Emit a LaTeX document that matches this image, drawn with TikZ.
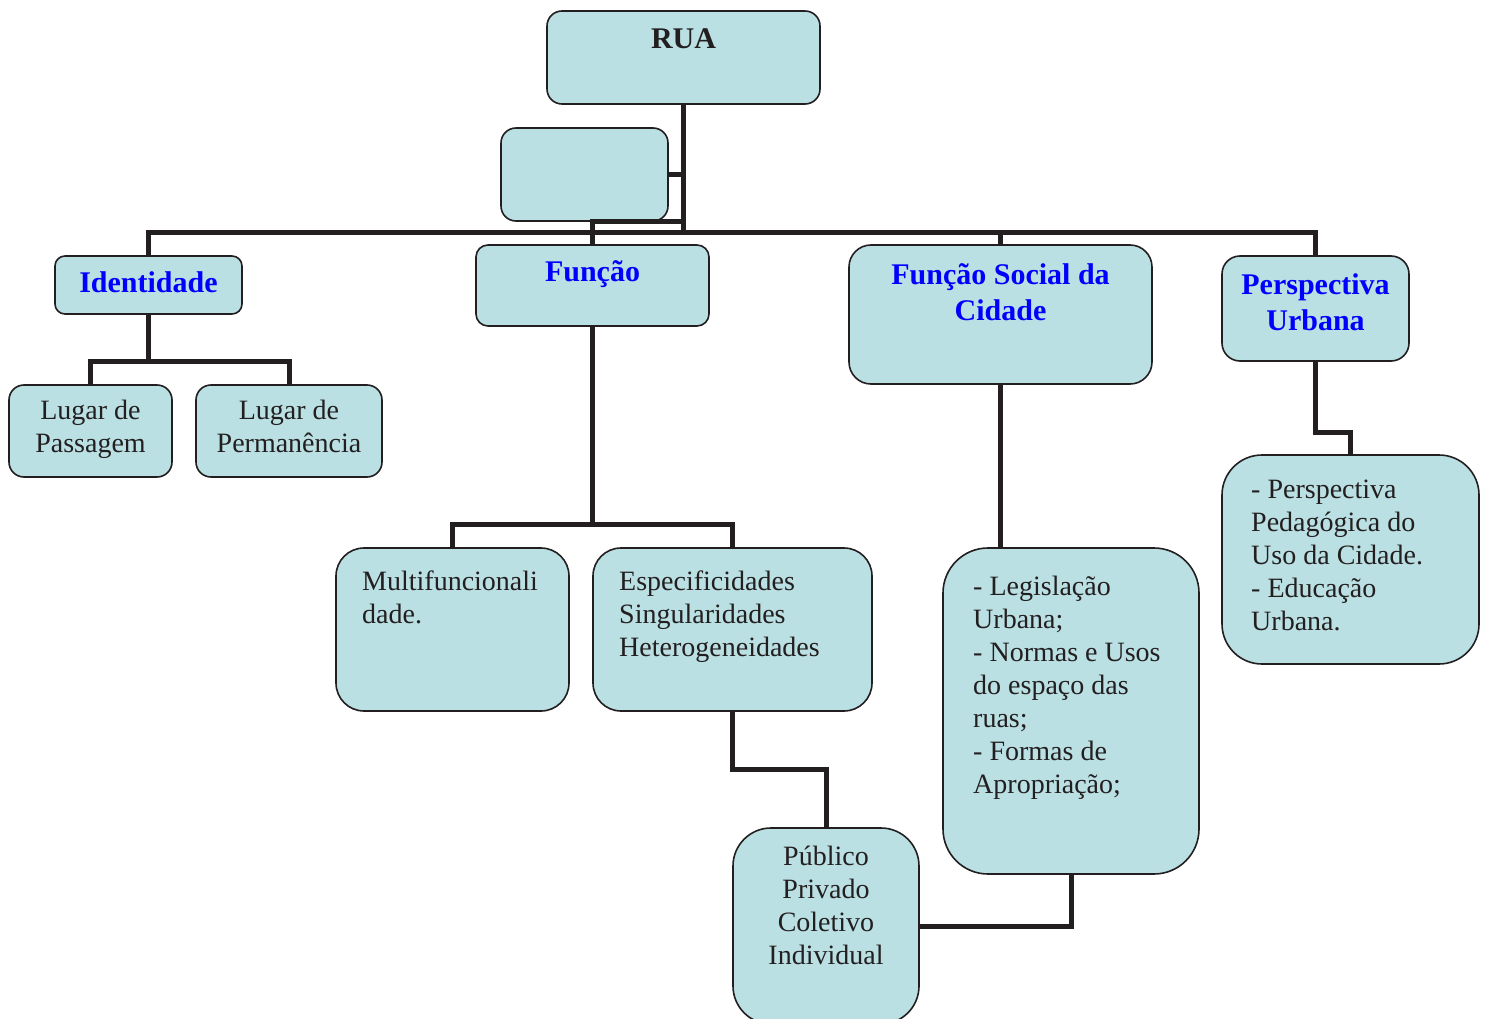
\documentclass[tikz,border=0pt]{standalone}
\usepackage{fontspec}
\setmainfont{Liberation Serif}
\usetikzlibrary{calc}
\definecolor{boxfill}{HTML}{BAE0E3}
\definecolor{ink}{HTML}{231F20}
\definecolor{ttl}{HTML}{0000FF}
\tikzset{
  box/.style={draw=ink, fill=boxfill, line width=1.6pt, inner sep=0pt, rectangle},
  conn/.style={draw=ink, line width=5pt},
  body/.style={text=ink, inner sep=0pt, font=\fontsize{28}{33}\selectfont},
  ttlb/.style={text=ttl, inner sep=0pt, align=center, font=\fontsize{30}{36}\selectfont\bfseries},
}
\begin{document}
\begin{tikzpicture}[x=1pt,y=-1pt]
\useasboundingbox (0,0) rectangle (1488,1019);
\clip (0,0) rectangle (1488,1019);
% boxes
\node[box, rounded corners=15pt, minimum width=273pt, minimum height=93pt] (rua) at (683.5,57.5) {};
\node[box, rounded corners=15pt, minimum width=167pt, minimum height=93pt] (empty) at (584.5,174.5) {};
\node[box, rounded corners=10pt, minimum width=187pt, minimum height=58pt] (ide) at (148.5,285) {};
\node[box, rounded corners=12pt, minimum width=233pt, minimum height=81pt] (fun) at (592.5,285.5) {};
\node[box, rounded corners=22pt, minimum width=303pt, minimum height=139pt] (fsc) at (1000.5,314.5) {};
\node[box, rounded corners=18pt, minimum width=187pt, minimum height=105pt] (pu) at (1315.5,308.5) {};
\node[box, rounded corners=15pt, minimum width=163pt, minimum height=92pt] (lp) at (90.5,431) {};
\node[box, rounded corners=15pt, minimum width=186pt, minimum height=92pt] (lper) at (289,431) {};
\node[box, rounded corners=28pt, minimum width=233pt, minimum height=163pt] (multi) at (452.5,629.5) {};
\node[box, rounded corners=28pt, minimum width=279pt, minimum height=163pt] (espec) at (732.5,629.5) {};
\node[box, rounded corners=45pt, minimum width=256pt, minimum height=326pt] (legis) at (1071,711) {};
\node[box, rounded corners=40pt, minimum width=257pt, minimum height=209pt] (pedag) at (1350.5,559.5) {};
\node[box, rounded corners=38pt, minimum width=186pt, minimum height=196pt] (pub) at (826,926) {};
% connectors
\coordinate (bus) at (683.5,232);
\draw[conn] (rua.south) -- (bus);
\draw[conn] (empty.east) -- (empty.east -| rua.south);
\draw[conn] (fun.north) -- (fun.north |- empty.south) -- (empty.south -| rua.south);
\draw[conn] (ide.north) -- (ide.north |- bus) -- (bus -| pu.north) -- (pu.north);
\draw[conn] (fsc.north) -- (fsc.north |- bus);
\coordinate (ib) at (148.5,361);
\draw[conn] (ide.south) -- (ib);
\draw[conn] (lp.north) -- (lp.north |- ib) -- (ib -| lper.north) -- (lper.north);
\coordinate (fb) at (592.5,524);
\draw[conn] (fun.south) -- (fb);
\draw[conn] (multi.north) -- (multi.north |- fb) -- (fb -| espec.north) -- (espec.north);
\draw[conn] (espec.south) -- ++(0,58) -| (pub.north);
\draw[conn] (fsc.south) -- (fsc.south |- legis.north);
\draw[conn] (legis.south) |- (pub.east);
\draw[conn] (pu.south) -- ++(0,71) -| (pedag.north);
% texts
\node[ttlb, text=ink, anchor=north] (truа) at (683.5,28) {RUA};
\node[ttlb, anchor=north] (tide) at (148.5,271) {Identidade};
\node[ttlb, anchor=north] (tfun) at (592.5,260) {Função};
\node[ttlb, anchor=north] (tfsc) at (1000.5,263) {Função Social da\\Cidade};
\node[ttlb, anchor=north] (tpu) at (1315.5,273) {Perspectiva\\Urbana};
\node[body, align=center, anchor=north] (tlp) at (90.5,400) {Lugar de\\Passagem};
\node[body, align=center, anchor=north] (tlper) at (289,400) {Lugar de\\Permanência};
\node[body, align=left, anchor=north west] (tmulti) at (362,571) {Multifuncionali\\dade.};
\node[body, align=left, anchor=north west] (tespec) at (619,571) {Especificidades\\Singularidades\\Heterogeneidades};
\node[body, align=left, anchor=north west] (tlegis) at (973,576) {- Legislação\\Urbana;\\- Normas e Usos\\do espaço das\\ruas;\\- Formas de\\Apropriação;};
\node[body, align=left, anchor=north west] (tpedag) at (1251,480) {- Perspectiva\\Pedagógica do\\Uso da Cidade.\\- Educação\\Urbana.};
\node[body, align=center, anchor=north] (tpub) at (826,846) {Público\\Privado\\Coletivo\\Individual};
\end{tikzpicture}
\end{document}
